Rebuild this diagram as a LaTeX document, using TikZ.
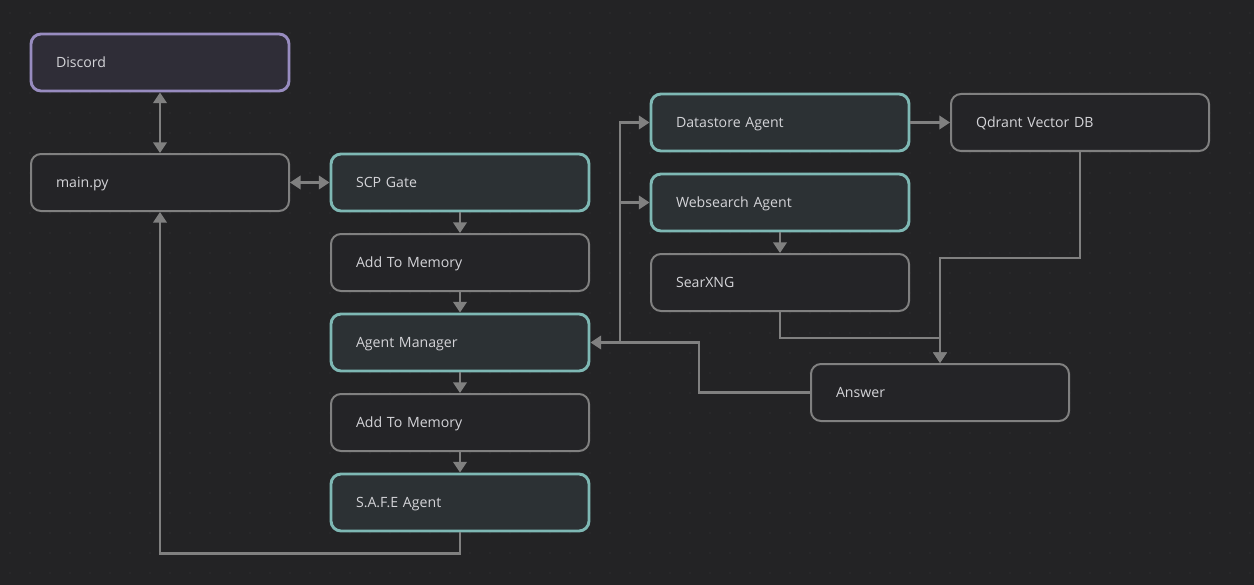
\documentclass[tikz,border=0pt]{standalone}
\usepackage{fontspec}
\setmainfont{Open Sans}
\usetikzlibrary{arrows.meta}

\definecolor{canvasbg}{RGB}{35,35,37}
\definecolor{canvasdot}{RGB}{46,46,49}
\definecolor{linkgray}{RGB}{128,128,128}
\definecolor{plainfill}{RGB}{36,36,39}
\definecolor{tealline}{RGB}{126,184,180}
\definecolor{tealfill}{RGB}{44,49,52}
\definecolor{purpleline}{RGB}{152,140,192}
\definecolor{purplefill}{RGB}{47,45,55}
\definecolor{labeltext}{RGB}{212,212,216}

\tikzset{
  card/.style={rectangle, rounded corners=7.5pt, draw=linkgray, line width=1.5pt,
    fill=plainfill, text width=156pt, inner xsep=18.75pt, inner ysep=0pt,
    minimum height=42.75pt, text height=7.5pt, text depth=0pt,
    align=left, font=\fontsize{10.6pt}{12pt}\selectfont, text=labeltext},
  agentcard/.style={card, draw=tealline, fill=tealfill, line width=2.2pt},
  chatcard/.style={card, draw=purpleline, fill=purplefill, line width=2.2pt},
  link/.style={draw=linkgray, line width=2pt, arrows={-Triangle[width=10pt,length=8pt]}},
  duallink/.style={link, arrows={Triangle[width=10pt,length=8pt]-Triangle[width=10pt,length=8pt]}}
}

\begin{document}
\begin{tikzpicture}[x=0.75pt,y=0.75pt,yscale=-1,xscale=1]
%set diagram size to 1254 x 585
\fill [canvasbg] (0,0) rectangle (1254,585);
\useasboundingbox (0,0) rectangle (1254,585);

%Dot grid
\foreach \i in {0,...,62}
  \foreach \j in {0,...,28}
    \fill [canvasdot] (10+20*\i,13+20*\j) circle (0.9);

%Shape: Discord
\node [chatcard] (discord) at (160,62.5) {Discord};
%Shape: main.py
\node [card] (main) at (160,182.5) {main.py};
%Shape: SCP Gate
\node [agentcard] (scp) at (460,182.5) {SCP Gate};
%Shape: Add To Memory (1)
\node [card] (memone) at (460,262.5) {Add To Memory};
%Shape: Agent Manager
\node [agentcard] (mgr) at (460,342.5) {Agent Manager};
%Shape: Add To Memory (2)
\node [card] (memtwo) at (460,422.5) {Add To Memory};
%Shape: S.A.F.E Agent
\node [agentcard] (safe) at (460,502.5) {S.A.F.E Agent};
%Shape: Datastore Agent
\node [agentcard] (data) at (780,122.5) {Datastore Agent};
%Shape: Websearch Agent
\node [agentcard] (web) at (780,202.5) {Websearch Agent};
%Shape: SearXNG
\node [card] (searx) at (780,282.5) {SearXNG};
%Shape: Qdrant Vector DB
\node [card] (qdrant) at (1080,122.5) {Qdrant Vector DB};
%Shape: Answer
\node [card] (answer) at (940,392.5) {Answer};

\coordinate (split) at (620,342.5);

%Straight Lines
\draw [duallink] (discord) -- (main);
\draw [duallink] (main) -- (scp);
\draw [link] (scp) -- (memone);
\draw [link] (memone) -- (mgr);
\draw [link] (mgr) -- (memtwo);
\draw [link] (memtwo) -- (safe);
\draw [link] (safe.south) -- ++(0,21) -| (main.south);

%Agent Manager to agents
\draw [link] (split) |- (data.west);
\draw [link] (split) |- (web.west);
\draw [link] (data) -- (qdrant);
\draw [link] (web) -- (searx);

%Back to Agent Manager
\draw [link] (answer.west) -- ++(-111,0) |- (mgr.east);
\draw [link] (searx.south) -- ++(0,26) -| (answer.north);
\draw [link] (qdrant.south) -- ++(0,106) -| (answer.north);

\end{tikzpicture}
\end{document}
